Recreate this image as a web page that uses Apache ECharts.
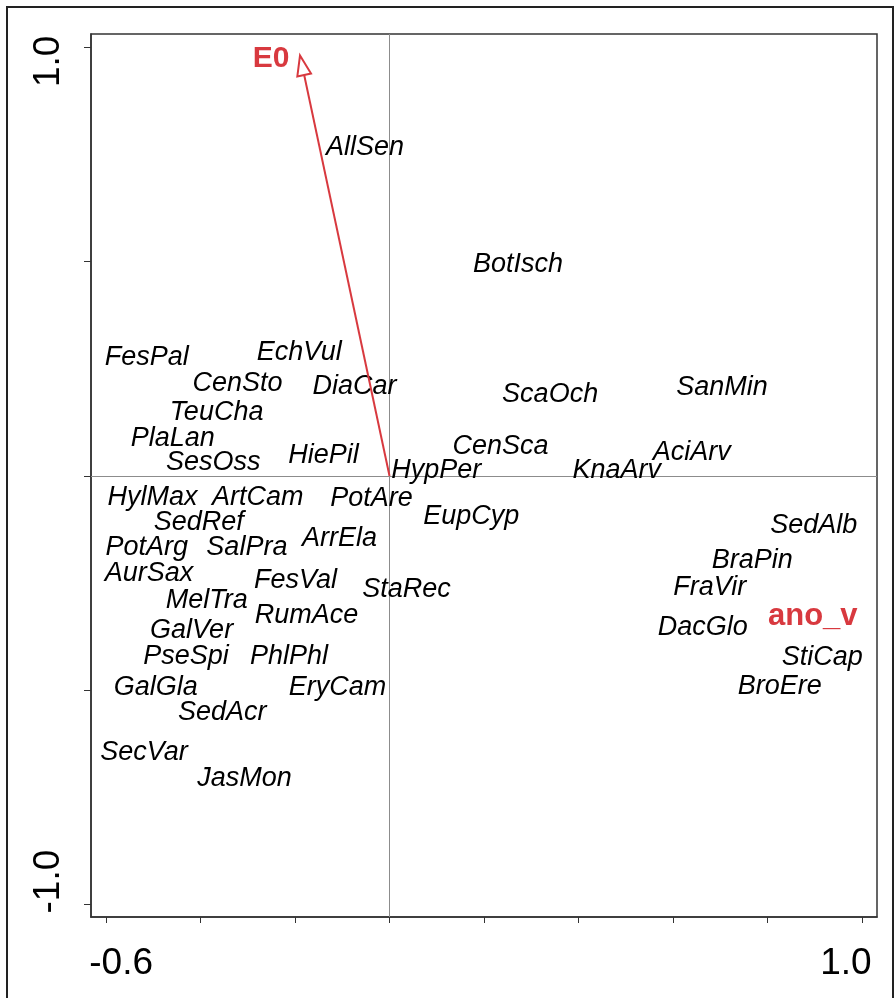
<!DOCTYPE html>
<html>
<head>
<meta charset="utf-8">
<script src="https://cdn.jsdelivr.net/npm/echarts@6/dist/echarts.min.js"></script>
<style>
  html, body { margin: 0; padding: 0; background: #fff; }
  #chart { width: 894px; height: 998px; }
</style>
</head>
<body>
<div id="chart"></div>
<script>
// Species scores (axis 1, axis 2)
const speciesNames = [
  'AllSen', 'BotIsch', 'FesPal', 'EchVul', 'CenSto', 'DiaCar', 'TeuCha', 'PlaLan',
  'SesOss', 'HiePil', 'HypPer', 'CenSca', 'ScaOch', 'SanMin', 'AciArv', 'KnaArv',
  'HylMax', 'ArtCam', 'PotAre', 'SedRef', 'PotArg', 'SalPra', 'ArrEla', 'EupCyp',
  'AurSax', 'FesVal', 'StaRec', 'MelTra', 'RumAce', 'GalVer', 'PseSpi', 'PhlPhl',
  'GalGla', 'EryCam', 'SedAcr', 'SecVar', 'JasMon', 'SedAlb', 'BraPin', 'FraVir',
  'DacGlo', 'StiCap', 'BroEre'
];
const speciesX = [
  -0.052, 0.272, -0.514, -0.191, -0.322, -0.074, -0.366, -0.459,
  -0.373, -0.140, 0.099, 0.235, 0.340, 0.704, 0.640, 0.481,
  -0.502, -0.279, -0.038, -0.404, -0.514, -0.302, -0.106, 0.173,
  -0.509, -0.199, 0.036, -0.387, -0.176, -0.419, -0.431, -0.213,
  -0.495, -0.110, -0.354, -0.520, -0.307, 0.898, 0.768, 0.678,
  0.663, 0.916, 0.826
];
const speciesY = [
  0.766, 0.493, 0.277, 0.288, 0.216, 0.209, 0.149, 0.088,
  0.032, 0.048, 0.013, 0.069, 0.191, 0.207, 0.055, 0.013,
  -0.050, -0.050, -0.052, -0.108, -0.168, -0.168, -0.145, -0.094,
  -0.227, -0.244, -0.265, -0.290, -0.325, -0.360, -0.421, -0.421,
  -0.493, -0.493, -0.551, -0.645, -0.705, -0.115, -0.197, -0.260,
  -0.353, -0.423, -0.491
];

// Environmental vector
const envNames = ['E0'];
const envX = [-0.1895];
const envY = [0.981];

// Factor centroid
const factorNames = ['ano_v'];
const factorX = [0.896];
const factorY = [-0.327];

// Axis ticks and labelled ticks
const xTicks = [-0.6, -0.4, -0.2, 0, 0.2, 0.4, 0.6, 0.8, 1.0];
const xTickLabels = [-0.6, 1.0];
const yTicks = [-1.0, -0.5, 0, 0.5, 1.0];
const yTickLabels = [-1.0, 1.0];

const RED = '#d8393f';
const FONT = '"Liberation Sans", Arial, sans-serif';

const chart = echarts.init(document.getElementById('chart'), null, { renderer: 'canvas' });

const speciesData = speciesNames.map((n, i) => ({ name: n, value: [speciesX[i], speciesY[i]] }));
const factorData = factorNames.map((n, i) => ({ name: n, value: [factorX[i], factorY[i]] }));
const envData = envNames.map((n, i) => ({ name: n, value: [envX[i], envY[i]] }));

const axisColor = '#333';

chart.setOption({
  animation: false,
  backgroundColor: '#fff',
  graphic: [{
    type: 'rect',
    shape: { x: 7, y: 7, width: 886, height: 1000 },
    style: { fill: 'none', stroke: '#222', lineWidth: 2 },
    z: 0
  }],
  grid: {
    left: 91, top: 34, width: 786, height: 883,
    containLabel: false, outerBoundsMode: 'none',
    show: true, borderColor: axisColor, borderWidth: 1.5, backgroundColor: 'transparent'
  },
  xAxis: {
    type: 'value', min: -0.632, max: 1.032,
    splitLine: { show: false },
    axisLine: { show: true, onZero: false, lineStyle: { color: axisColor, width: 1.5 } },
    axisTick: { show: true, customValues: xTicks, length: 6, lineStyle: { color: axisColor, width: 1 } },
    axisLabel: {
      show: true, customValues: xTickLabels, margin: 28,
      formatter: v => (v < 0 ? '{l|' : '{r|') + v.toFixed(1) + '}',
      rich: {
        l: { fontSize: 37, fontFamily: FONT, color: '#000', padding: [0, 0, 0, 30], lineHeight: 37 },
        r: { fontSize: 37, fontFamily: FONT, color: '#000', padding: [0, 32, 0, 0], lineHeight: 37 }
      }
    }
  },
  yAxis: {
    type: 'value', min: -1.029, max: 1.031,
    splitLine: { show: false },
    axisLine: { show: true, onZero: false, lineStyle: { color: axisColor, width: 1.5 } },
    axisTick: { show: true, customValues: yTicks, length: 7, lineStyle: { color: axisColor, width: 1 } },
    axisLabel: {
      show: true, customValues: yTickLabels, rotate: 90, margin: 24,
      formatter: v => (v > 0 ? '{t|' : '{b|') + v.toFixed(1) + '}',
      rich: {
        t: { fontSize: 37, fontFamily: FONT, color: '#000', padding: [0, 28, 0, 0], lineHeight: 37 },
        b: { fontSize: 37, fontFamily: FONT, color: '#000', padding: [0, 0, 0, 46], lineHeight: 37 }
      }
    }
  },
  series: [
    {
      name: 'species',
      type: 'scatter',
      data: speciesData,
      symbol: 'circle',
      symbolSize: 1,
      itemStyle: { color: 'transparent', opacity: 1 },
      label: {
        show: true, position: 'inside', formatter: p => p.name,
        fontFamily: FONT, fontStyle: 'italic', fontSize: 27, color: '#000', opacity: 1
      },
      markLine: {
        silent: true, symbol: ['none', 'none'], label: { show: false },
        lineStyle: { color: '#8c8c8c', width: 1, type: 'solid' },
        data: [{ xAxis: 0 }, { yAxis: 0 }],
        z: 1
      },
      z: 3
    },
    {
      name: 'factor',
      type: 'scatter',
      data: factorData,
      symbol: 'circle',
      symbolSize: 1,
      itemStyle: { color: 'transparent', opacity: 1 },
      label: {
        show: true, position: 'inside', formatter: p => p.name,
        fontFamily: FONT, fontWeight: 'bold', fontSize: 31, color: RED, opacity: 1
      },
      z: 4
    },
    {
      name: 'vector',
      type: 'custom',
      data: envData,
      z: 5,
      renderItem: function (params, api) {
        const o = api.coord([0, 0]);
        const t = api.coord([api.value(0), api.value(1)]);
        const dx = t[0] - o[0], dy = t[1] - o[1];
        const len = Math.sqrt(dx * dx + dy * dy);
        const ux = dx / len, uy = dy / len;
        const headLen = 20, headHalf = 7;
        const bx = t[0] - ux * headLen, by = t[1] - uy * headLen;
        const nx = -uy, ny = ux;
        return {
          type: 'group',
          children: [
            {
              type: 'line',
              shape: { x1: o[0], y1: o[1], x2: bx, y2: by },
              style: { stroke: RED, lineWidth: 2 }
            },
            {
              type: 'polygon',
              shape: { points: [[t[0], t[1]], [bx + nx * headHalf, by + ny * headHalf], [bx - nx * headHalf, by - ny * headHalf]] },
              style: { fill: '#fff', stroke: RED, lineWidth: 2 }
            },
            {
              type: 'text',
              style: {
                text: envNames[params.dataIndex], x: t[0] - 29, y: t[1] + 3,
                align: 'center', verticalAlign: 'middle',
                fontFamily: FONT, fontWeight: 'bold', fontSize: 30, fill: RED
              }
            }
          ]
        };
      }
    }
  ]
});
</script>
</body>
</html>
